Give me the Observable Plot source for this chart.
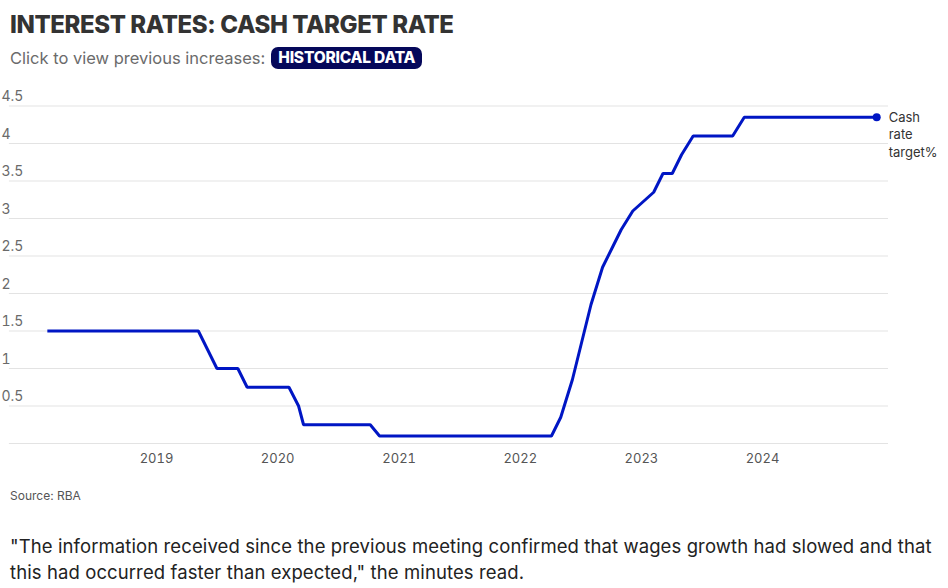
<!DOCTYPE html>
<html>
<head>
<meta charset="utf-8">
<script src="https://cdn.jsdelivr.net/npm/d3@7"></script>
<script src="https://cdn.jsdelivr.net/npm/@observablehq/plot@0.6"></script>
<style>
  html, body { margin: 0; padding: 0; background: #fff; width: 948px; height: 588px; overflow: hidden; }
  body { position: relative; font-family: "Inter", "Roboto", sans-serif; }
  .title { position: absolute; left: 10px; top: 10px; font-size: 24px; font-weight: 800; color: #333; letter-spacing: -0.4px; white-space: nowrap; }
  .sub { position: absolute; left: 10px; top: 47px; font-size: 16.5px; color: #6b6b6b; white-space: nowrap; display: flex; align-items: center; }
  .pill { display: inline-block; margin-left: 6px; background: #05085a; color: #fff; font-weight: 800; font-size: 15.5px; line-height: 18px; padding: 2px 7px 2px 7px; border-radius: 7px; letter-spacing: -0.2px; }
  #chart { position: absolute; left: 0; top: 80px; }
  .source { position: absolute; left: 10px; top: 488px; font-size: 12px; color: #555; }
  .quote { position: absolute; left: 10px; top: 533px; width: 928px; font-size: 18.5px; letter-spacing: 0.1px; line-height: 26px; color: #222; }
</style>
</head>
<body>
<div class="title">INTEREST RATES: CASH TARGET RATE</div>
<div class="sub">Click to view previous increases:<span class="pill">HISTORICAL DATA</span></div>
<div id="chart"></div>
<div class="source">Source: RBA</div>
<div class="quote">"The information received since the previous meeting confirmed that wages growth had slowed and that this had occurred faster than expected," the minutes read.</div>
<script>
// RBA board meeting dates and cash rate target (%) after each meeting
const meetingDates = [
  "2018-02-06","2018-03-06","2018-04-03","2018-05-01","2018-06-05","2018-07-03","2018-08-07","2018-09-04","2018-10-02","2018-11-06","2018-12-04",
  "2019-02-05","2019-03-05","2019-04-02","2019-05-07","2019-06-04","2019-07-02","2019-08-06","2019-09-03","2019-10-01","2019-11-05","2019-12-03",
  "2020-02-04","2020-03-04","2020-03-19","2020-04-07","2020-05-05","2020-06-02","2020-07-07","2020-08-04","2020-09-01","2020-10-06","2020-11-03","2020-12-01",
  "2021-02-02","2021-03-02","2021-04-06","2021-05-04","2021-06-01","2021-07-06","2021-08-03","2021-09-07","2021-10-05","2021-11-02","2021-12-07",
  "2022-02-01","2022-03-01","2022-04-05","2022-05-03","2022-06-07","2022-07-05","2022-08-02","2022-09-06","2022-10-04","2022-11-01","2022-12-06",
  "2023-02-07","2023-03-07","2023-04-04","2023-05-02","2023-06-06","2023-07-04","2023-08-01","2023-09-05","2023-10-03","2023-11-07","2023-12-05",
  "2024-02-06","2024-03-19","2024-05-07","2024-06-18","2024-08-06","2024-09-24","2024-11-05","2024-12-10"
];
const cashRate = [
  1.5,1.5,1.5,1.5,1.5,1.5,1.5,1.5,1.5,1.5,1.5,
  1.5,1.5,1.5,1.5,1.25,1.0,1.0,1.0,0.75,0.75,0.75,
  0.75,0.5,0.25,0.25,0.25,0.25,0.25,0.25,0.25,0.25,0.1,0.1,
  0.1,0.1,0.1,0.1,0.1,0.1,0.1,0.1,0.1,0.1,0.1,
  0.1,0.1,0.1,0.35,0.85,1.35,1.85,2.35,2.6,2.85,3.1,
  3.35,3.6,3.6,3.85,4.1,4.1,4.1,4.1,4.1,4.35,4.35,
  4.35,4.35,4.35,4.35,4.35,4.35,4.35,4.35
];
const yTicks = [0, 0.5, 1, 1.5, 2, 2.5, 3, 3.5, 4, 4.5];
const yTickLabels = [0.5, 1, 1.5, 2, 2.5, 3, 3.5, 4, 4.5];
const xTickYears = [2019, 2020, 2021, 2022, 2023, 2024];
const seriesLabel = "Cash\nrate\ntarget%";

const data = meetingDates.map((d, i) => ({date: new Date(d + "T00:00:00Z"), rate: cashRate[i]}));
const last = data[data.length - 1];
const blue = "#0016c4";

const plot = Plot.plot({
  width: 948,
  height: 400,
  marginTop: 25.5,
  marginBottom: 37,
  marginLeft: 34.9,
  marginRight: 64.5,
  style: {fontFamily: "Inter, Roboto, sans-serif", background: "transparent", overflow: "visible"},
  x: {type: "utc", domain: [new Date(Date.UTC(2018,0,1)), new Date(Date.UTC(2025,0,1))]},
  y: {domain: [0, 4.5]},
  marks: [
    Plot.ruleY(yTicks, {stroke: "#e3e3e3", strokeWidth: 1, insetLeft: -26, insetRight: -4.5}),
    Plot.axisY(yTickLabels, {tickSize: 0, textAnchor: "start", dx: -25, dy: -9, fontSize: 14, fill: "#6a6a6a", tickFormat: d => String(d), label: null}),
    Plot.axisX(xTickYears.map(y => new Date(Date.UTC(y,0,1))), {tickSize: 0, tickPadding: 10, fontSize: 13, fill: "#555", tickFormat: d => String(d.getUTCFullYear()), label: null}),
    Plot.line(data, {x: "date", y: "rate", stroke: blue, strokeWidth: 3, strokeLinejoin: "miter", strokeLinecap: "butt"}),
    Plot.dot([last], {x: "date", y: "rate", r: 4, fill: blue}),
    Plot.text([last], {x: "date", y: "rate", text: () => seriesLabel, textAnchor: "start", lineAnchor: "top", dx: 12, dy: -8, fontSize: 13, fill: "#333", lineHeight: 1.35})
  ]
});
document.getElementById("chart").appendChild(plot);
</script>
</body>
</html>
